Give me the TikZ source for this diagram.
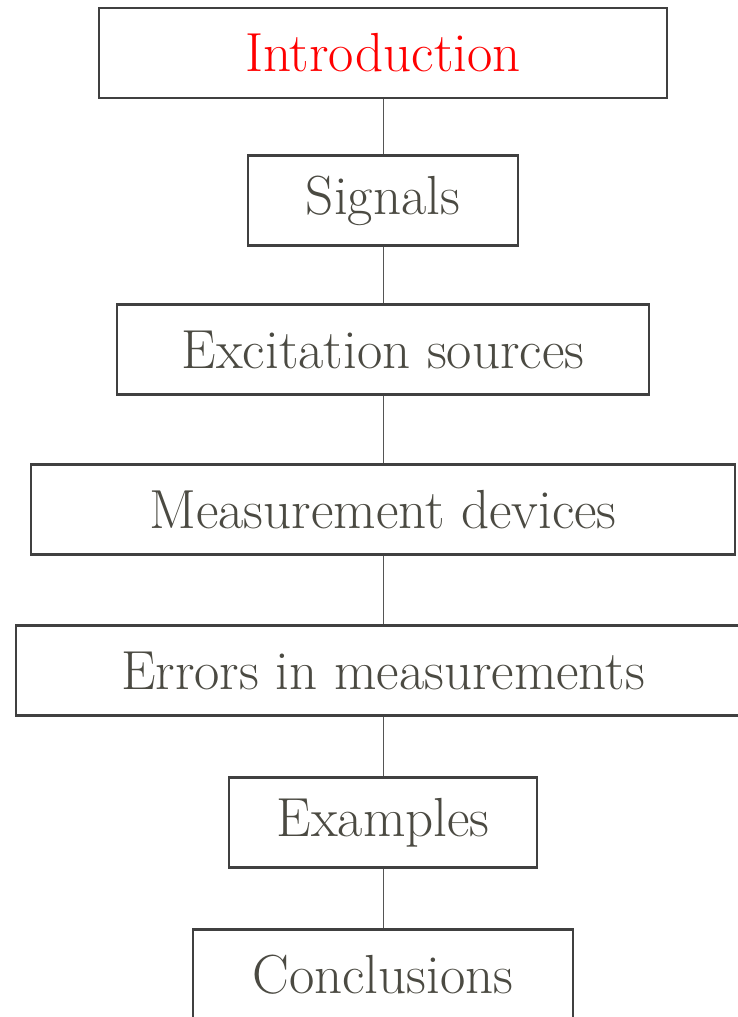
\documentclass[tikz,border=0pt]{standalone}
\usepackage{tikz}
\usetikzlibrary{positioning}
\definecolor{boxgray}{HTML}{404040}
\definecolor{textgray}{HTML}{4B4A42}
\definecolor{linegray}{HTML}{555555}

\begin{document}
\begin{tikzpicture}[
        topic/.style={rectangle, draw=boxgray, line width=2.5pt, minimum height=2.7cm, align=center, text=textgray, font=\fontsize{47}{52}\selectfont},
        link/.style={draw=linegray, line width=0.6pt}]

        \useasboundingbox (-11.49,1.59) rectangle (10.62,-28.92);

        % Chapitres du cours
        \node (intro) [topic, minimum width=17.04cm, text=red] at (0,0) {Introduction};
        \node (signals) [topic, minimum width=8.1cm, below=1.65cm of intro] {Signals};
        \node (sources) [topic, minimum width=15.96cm, below=1.68cm of signals] {Excitation sources};
        \node (devices) [topic, minimum width=21.12cm, below=2.01cm of sources] {Measurement devices};
        \node (errors) [topic, minimum width=22.02cm, below=2.04cm of devices] {Errors in measurements};
        \node (examples) [topic, minimum width=9.24cm, below=1.77cm of errors] {Examples};
        \node (concl) [topic, minimum width=11.4cm, below=1.77cm of examples] {Conclusions};

        % Liens
        \draw [link] (intro) -- (signals);
        \draw [link] (signals) -- (sources);
        \draw [link] (sources) -- (devices);
        \draw [link] (devices) -- (errors);
        \draw [link] (errors) -- (examples);
        \draw [link] (examples) -- (concl);

\end{tikzpicture}
\end{document}
